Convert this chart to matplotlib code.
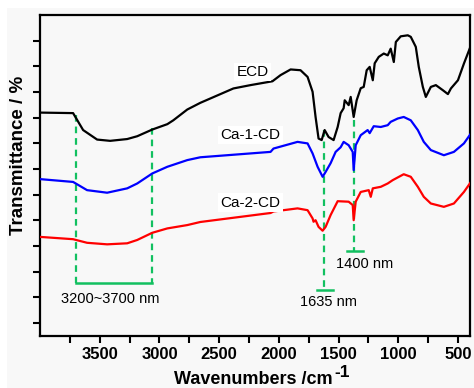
import matplotlib
matplotlib.use("Agg")
import matplotlib.pyplot as plt
from matplotlib.ticker import FixedLocator, NullFormatter
from matplotlib.patches import Rectangle

plt.rcParams['font.family'] = ['Liberation Sans', 'DejaVu Sans']

# ---- data ----
ecd_w = [4000, 3723, 3639, 3522, 3413, 3270, 3186, 3060, 2934, 2884, 2767, 2658, 2381, 2238, 2054,
         1986, 1902, 1819, 1760, 1718, 1693, 1668, 1642, 1617, 1584, 1542, 1508, 1483, 1458, 1449,
         1416, 1399, 1374, 1349, 1315, 1290, 1265, 1240, 1214, 1198, 1164, 1122, 1089, 1064, 1038,
         1021, 980, 921, 896, 854, 829, 795, 770, 728, 686, 627, 585, 560, 501, 451, 392]
ecd_t = [8.70, 8.68, 8.02, 7.65, 7.60, 7.67, 7.78, 8.04, 8.25, 8.40, 8.82, 9.08, 9.64, 9.77, 9.92,
         10.16, 10.38, 10.35, 10.09, 9.51, 8.53, 7.69, 7.63, 8.02, 7.75, 7.63, 8.14, 8.68, 8.87, 9.18,
         8.99, 9.31, 8.53, 9.18, 9.65, 9.70, 10.35, 10.48, 9.96, 10.62, 10.87, 11.00, 10.93, 11.19, 10.67,
         11.45, 11.67, 11.71, 11.65, 11.26, 10.48, 9.70, 9.31, 9.70, 9.77, 9.57, 9.42, 9.64, 9.96, 10.61, 11.32]

ca1_w = [4000, 3723, 3606, 3438, 3270, 3186, 3060, 2934, 2767, 2658, 2070, 2045, 1844, 1760, 1718,
         1676, 1634, 1609, 1567, 1525, 1483, 1458, 1416, 1382, 1374, 1357, 1315, 1257, 1240, 1206,
         1147, 1089, 1064, 1005, 955, 896, 837, 787, 728, 619, 535, 451, 392]
ca1_t = [6.11, 6.00, 5.68, 5.58, 5.75, 5.94, 6.33, 6.59, 6.85, 6.96, 7.17, 7.30, 7.56, 7.50, 7.11,
         6.59, 6.20, 6.39, 6.73, 7.17, 7.35, 7.56, 7.43, 7.17, 6.46, 7.43, 7.82, 8.02, 7.90, 8.17,
         8.14, 8.21, 8.34, 8.47, 8.53, 8.40, 8.02, 7.56, 7.24, 7.04, 7.17, 7.50, 7.89]

ca2_w = [4000, 3723, 3606, 3438, 3270, 3186, 3060, 2934, 2767, 2658, 2070, 2045, 1844, 1760, 1718,
         1710, 1693, 1668, 1634, 1609, 1567, 1508, 1416, 1382, 1374, 1357, 1315, 1248, 1231, 1214,
         1147, 1089, 1047, 955, 896, 837, 787, 728, 619, 535, 451, 392]
ca2_t = [3.86, 3.77, 3.63, 3.57, 3.61, 3.74, 4.02, 4.19, 4.32, 4.44, 4.79, 4.85, 4.97, 4.90, 4.58,
         4.45, 4.51, 4.25, 4.10, 4.25, 4.71, 5.25, 5.23, 5.10, 4.51, 5.23, 5.61, 5.68, 5.42, 5.75,
         5.81, 5.94, 6.07, 6.30, 6.20, 5.81, 5.42, 5.16, 5.03, 5.16, 5.61, 6.00]

series_names = ['ECD', 'Ca-1-CD', 'Ca-2-CD']
series_colors = ['#000000', '#0000ff', '#ff0000']
label_pos = [(2221, 10.28), (2238, 7.82), (2238, 5.19)]

x_ticks = [3500, 3000, 2500, 2000, 1500, 1000, 500]
x_minor = [3750, 3250, 2750, 2250, 1750, 1250, 750]

# annotations
band_oh = (3700, 3063)
band_oh_tops = (8.6, 8.09)
band_oh_bottom = 2.05
band_oh_label = '3200~3700 nm'
peak_1635 = (1620, 8.02, 1.80)
peak_1400 = (1374, 8.4, 3.30)

GREEN = '#12c060'
BG = '#f8f8f8'

fig = plt.figure(figsize=(4.74, 3.88), dpi=100, facecolor=BG)
# thin white margins seen at the top/left of the reference image
fig.patches.append(Rectangle((0, 0), 7 / 474, 1, transform=fig.transFigure, fc='white', ec='none', zorder=-1))
fig.patches.append(Rectangle((0, 1 - 8 / 388), 1, 8 / 388, transform=fig.transFigure, fc='white', ec='none', zorder=-1))

ax = fig.add_axes([0.0844, 0.134, 0.9072, 0.8273])
ax.set_facecolor(BG)

for w, t, c in zip([ecd_w, ca1_w, ca2_w], [ecd_t, ca1_t, ca2_t], series_colors):
    ax.plot(w, t, color=c, lw=1.6, solid_joinstyle='round', zorder=3)

for name, (lx, ly) in zip(series_names, label_pos):
    ax.text(lx, ly, name, ha='center', va='center', fontsize=11, zorder=4,
            bbox=dict(boxstyle='square,pad=0.15', fc='white', ec='none'))

dash = dict(color=GREEN, lw=1.6, ls=(0, (3, 2.2)), zorder=2)
solid = dict(color=GREEN, lw=1.8, zorder=2)

# O-H band
ax.plot([band_oh[0], band_oh[0]], [band_oh_tops[0], band_oh_bottom], **dash)
ax.plot([band_oh[1], band_oh[1]], [band_oh_tops[1], band_oh_bottom], **dash)
ax.plot([band_oh[0], band_oh[1]], [band_oh_bottom, band_oh_bottom], **solid)
ax.text(3413, 1.44, band_oh_label, ha='center', va='center', fontsize=10.5)

# 1635
ax.plot([peak_1635[0]] * 2, [peak_1635[1], peak_1635[2]], **dash)
ax.plot([1684, 1544], [peak_1635[2]] * 2, **solid)
ax.text(1586, 1.33, '1635 nm', ha='center', va='center', fontsize=10.5)

# 1400
ax.plot([peak_1400[0]] * 2, [peak_1400[1], peak_1400[2]], **dash)
ax.plot([1433, 1298], [peak_1400[2]] * 2, **solid)
ax.text(1284, 2.80, '1400 nm', ha='center', va='center', fontsize=10.5)

ax.set_xlim(4000, 400)
ax.set_ylim(0, 12.5)
ax.xaxis.set_major_locator(FixedLocator(x_ticks))
ax.xaxis.set_minor_locator(FixedLocator(x_minor))
ax.yaxis.set_major_locator(FixedLocator([0.5 + i for i in range(12)]))
ax.yaxis.set_major_formatter(NullFormatter())
ax.tick_params(axis='both', which='both', direction='out', length=5, width=1.5)
ax.tick_params(axis='x', labelsize=12, pad=3)
for lbl in ax.get_xticklabels():
    lbl.set_fontweight('bold')
for s in ax.spines.values():
    s.set_linewidth(1.6)

# axis titles
fig.text(333 / 474, 1 - 384 / 388, 'Wavenumbers /cm', ha='right', va='baseline',
         fontsize=13, fontweight='bold')
fig.text(334 / 474, 1 - 377 / 388, '-1', ha='left', va='baseline',
         fontsize=12.5, fontweight='bold')
fig.text(19 / 474, 1 - 155 / 388, 'Transmittance / %', ha='center', va='center',
         rotation=90, fontsize=13.5, fontweight='bold')

fig.savefig('out.png', dpi=100, facecolor=fig.get_facecolor())
